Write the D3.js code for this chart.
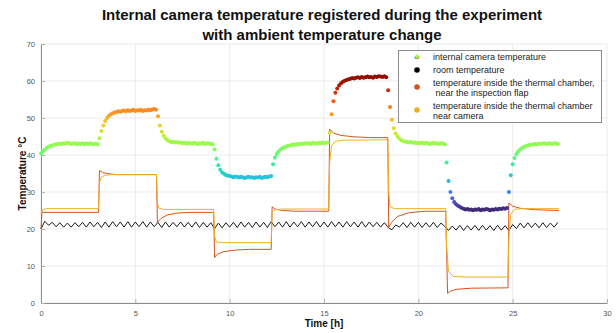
<!DOCTYPE html>
<html>
<head>
<meta charset="utf-8">
<script src="https://cdn.jsdelivr.net/npm/d3@7"></script>
<style>
  body { margin: 0; background: #fff; }
  text { font-family: "Liberation Sans", Arial, sans-serif; }
</style>
</head>
<body>
<script>
// internal camera temperature, one reading every 0.1 h
var cameraStep = 0.1;
var cameraTemp = [
  40.4, 41.0, 41.5, 41.9, 42.2, 42.5, 42.6, 42.8, 42.9, 43.0,
  43.1, 43.0, 43.2, 43.1, 43.3, 43.2, 43.0, 43.1, 43.2, 42.9,
  43.1, 43.0, 43.2, 42.9, 43.1, 43.0, 43.2, 43.0, 42.9, 43.1,
  42.9, 44.5, 46.5, 48.0, 49.2, 50.0, 50.6, 51.0, 51.3, 51.5,
  51.6, 51.8, 51.7, 51.9, 52.0, 51.8, 52.1, 51.9, 52.0, 52.2,
  51.9, 52.1, 52.0, 52.2, 51.9, 52.1, 52.0, 52.2, 52.1, 52.3,
  52.4, 52.2, 50.5, 48.0, 46.3, 45.2, 44.5, 44.0, 43.7, 43.5,
  43.6, 43.4, 43.5, 43.3, 43.4, 43.2, 43.3, 43.1, 43.3, 43.2,
  43.1, 43.3, 43.2, 43.0, 43.2, 43.1, 43.3, 43.0, 43.2, 43.1,
  43.0, 42.9, 41.5, 39.0, 37.2, 36.0, 35.3, 34.9, 34.6, 34.4,
  34.3, 34.2, 34.0, 34.2, 34.1, 33.9, 34.1, 34.0, 33.8, 34.0,
  34.1, 33.9, 34.0, 33.8, 34.0, 33.9, 34.1, 33.8, 34.0, 34.1,
  34.0, 34.2, 34.3, 37.5, 39.3, 40.3, 41.0, 41.5, 41.9, 42.1,
  42.3, 42.5, 42.6, 42.7, 42.9, 42.8, 43.0, 42.9, 43.1, 43.0,
  43.2, 43.1, 43.2, 43.0, 43.3, 43.2, 43.1, 43.3, 43.2, 43.4,
  43.2, 43.3, 43.4, 46.0, 51.0, 54.5, 56.8, 58.0, 58.8, 59.4,
  59.8, 60.1, 60.3, 60.5, 60.6, 60.8, 60.7, 60.9, 61.0, 60.8,
  61.1, 60.9, 61.0, 61.2, 61.0, 61.1, 60.9, 61.2, 61.1, 61.3,
  61.2, 61.1, 61.3, 61.0, 57.5, 53.0, 49.5, 47.2, 45.8, 45.0,
  44.4, 44.0, 43.8, 43.6, 43.5, 43.4, 43.5, 43.3, 43.4, 43.2,
  43.3, 43.2, 43.4, 43.1, 43.3, 43.2, 43.0, 43.2, 43.3, 43.1,
  43.2, 43.0, 43.2, 43.1, 42.9, 38.0, 33.0, 30.0, 28.3, 27.3,
  26.7, 26.3, 26.0, 25.7, 25.5, 25.3, 25.4, 25.2, 25.3, 25.1,
  25.3, 25.2, 25.4, 25.1, 25.3, 25.2, 25.4, 25.3, 25.1, 25.3,
  25.2, 25.4, 25.3, 25.5, 25.4, 25.6, 25.5, 25.7, 30.0, 34.5,
  37.5, 39.2, 40.3, 41.0, 41.5, 41.9, 42.2, 42.4, 42.6, 42.7,
  42.8, 42.9, 43.0, 42.9, 43.1, 43.0, 43.2, 43.1, 43.0, 43.2,
  43.1, 43.0, 43.2, 43.1, 43.0
];

// room temperature, one reading every 0.2 h
var roomStep = 0.2;
var roomTemp = [
  20.0, 22.1, 21.0, 21.8, 20.6, 21.7, 20.5, 21.6, 20.5, 21.7,
  20.6, 21.8, 20.5, 21.9, 20.6, 21.8, 20.4, 21.9, 20.5, 22.0,
  20.6, 21.9, 20.5, 22.0, 20.5, 21.9, 20.6, 22.0, 20.5, 21.9,
  20.6, 21.8, 20.4, 21.9, 20.5, 21.8, 20.6, 21.9, 20.5, 21.8,
  20.5, 21.9, 20.4, 21.8, 20.5, 21.7, 20.1, 21.6, 20.3, 21.7,
  20.5, 21.8, 20.4, 21.9, 20.5, 21.8, 20.4, 21.9, 20.5, 21.8,
  20.4, 22.0, 20.6, 21.9, 20.5, 22.0, 20.5, 21.9, 20.6, 22.0,
  20.5, 21.9, 20.6, 22.0, 20.5, 21.9, 20.5, 22.0, 20.6, 21.9,
  20.5, 22.0, 20.6, 21.9, 20.5, 22.0, 20.5, 21.9, 20.6, 21.8,
  20.5, 21.7, 20.4, 19.8, 21.1, 20.5, 21.7, 20.4, 21.8, 20.5,
  21.8, 20.4, 21.7, 20.5, 21.8, 20.4, 21.6, 20.7, 19.6, 20.8,
  19.7, 21.0, 19.6, 20.9, 19.7, 21.0, 19.6, 21.0, 19.7, 20.9,
  19.6, 21.0, 19.7, 20.9, 19.6, 21.2, 20.1, 21.6, 20.3, 21.7,
  20.4, 21.6, 20.3, 21.7, 20.4, 21.6, 20.5, 21.8
];

// thermal chamber, near the inspection flap: [hour, °C]
var flapTemp = [
  [0, 20.0], [0.05, 24.5], [3.05, 24.5], [3.1, 35.8], [3.3, 35.2], [3.6, 34.9],
  [4.0, 34.7], [6.12, 34.7], [6.17, 21.8], [6.35, 22.8], [6.7, 23.8], [7.2, 24.3],
  [8.0, 24.5], [9.15, 24.5], [9.2, 12.3], [9.35, 13.2], [9.7, 13.9], [10.3, 14.3],
  [11.0, 14.5], [12.2, 14.5], [12.25, 26.0], [12.4, 25.4], [12.8, 25.0], [13.5, 24.8],
  [15.25, 24.8], [15.3, 47.0], [15.5, 45.9], [15.9, 45.3], [16.6, 44.9], [17.5, 44.7],
  [18.38, 44.7], [18.43, 20.5], [18.58, 21.8], [18.9, 23.4], [19.5, 24.4], [20.3, 24.8],
  [21.45, 24.8], [21.55, 2.6], [21.7, 3.2], [22.0, 3.7], [22.8, 4.0], [24.75, 4.1],
  [24.8, 27.0], [25.0, 26.2], [25.4, 25.6], [26.2, 25.2], [27.45, 25.0]
];

// thermal chamber, near the camera: [hour, °C]
var nearCamTemp = [
  [0, 24.0], [0.1, 25.3], [0.3, 25.5], [3.05, 25.5], [3.1, 32.5], [3.2, 34.0],
  [3.4, 34.5], [3.7, 34.7], [6.12, 34.7], [6.17, 27.0], [6.25, 25.6], [6.5, 25.3],
  [9.15, 25.3], [9.2, 18.0], [9.3, 16.5], [9.6, 16.3], [12.2, 16.3], [12.25, 24.5],
  [12.4, 25.2], [12.8, 25.4], [15.25, 25.4], [15.3, 38.0], [15.4, 42.5], [15.6, 43.7],
  [16.0, 44.0], [18.38, 44.1], [18.43, 30.0], [18.5, 26.0], [18.75, 25.5], [21.45, 25.5],
  [21.5, 15.0], [21.6, 8.5], [21.85, 7.2], [22.5, 7.0], [24.75, 7.0], [24.8, 18.0],
  [24.9, 24.0], [25.1, 25.3], [25.5, 25.5], [27.45, 25.5]
];

var titleLines = ["Internal camera temperature registered during the experiment",
                  "with ambient temperature change"];
var legendLabels = [
  ["internal camera temperature"],
  ["room temperature"],
  ["temperature inside the thermal chamber,", " near the inspection flap"],
  ["temperature inside the thermal chamber", "near camera"]
];
var xTicks = [0, 5, 10, 15, 20, 25, 30];
var yTicks = [0, 10, 20, 30, 40, 50, 60, 70];

var W = 616, H = 333;
var m = { left: 41, right: 9, top: 44, bottom: 30 };

var svg = d3.select("body").append("svg").attr("width", W).attr("height", H);

var x = d3.scaleLinear().domain([0, 30]).range([m.left, W - m.right]);
var y = d3.scaleLinear().domain([0, 70]).range([H - m.bottom, m.top]);
var color = d3.scaleSequential(d3.interpolateTurbo).domain([24, 62]);

// grid
svg.append("g").selectAll("line").data(xTicks).enter().append("line")
  .attr("x1", d => x(d)).attr("x2", d => x(d))
  .attr("y1", y(0)).attr("y2", y(70))
  .attr("stroke", "#ebebeb").attr("stroke-width", 1);
svg.append("g").selectAll("line").data(yTicks).enter().append("line")
  .attr("x1", x(0)).attr("x2", x(30))
  .attr("y1", d => y(d)).attr("y2", d => y(d))
  .attr("stroke", "#ebebeb").attr("stroke-width", 1);

// axes
var xAxis = svg.append("g").attr("transform", "translate(0," + y(0) + ")")
  .call(d3.axisBottom(x).tickValues(xTicks).tickSizeInner(-4).tickSizeOuter(0).tickPadding(8));
var yAxis = svg.append("g").attr("transform", "translate(" + x(0) + ",0)")
  .call(d3.axisLeft(y).tickValues(yTicks).tickSizeInner(-4).tickSizeOuter(0).tickPadding(6));
[xAxis, yAxis].forEach(function (g) {
  g.select(".domain").attr("stroke", "#8c8c8c");
  g.selectAll(".tick line").attr("stroke", "#b0b0b0");
  g.selectAll(".tick text").attr("fill", "#555")
    .style("font-family", "'Liberation Sans', Arial, sans-serif").style("font-size", "7.5px");
});

// room temperature
var line = d3.line().x(d => x(d[0])).y(d => y(d[1]));
var roomPts = roomTemp.map((v, i) => [i * roomStep, v]);
svg.append("path").attr("d", line(roomPts))
  .attr("fill", "none").attr("stroke", "#1a1a1a").attr("stroke-width", 1);

// chamber temperatures
svg.append("path").attr("d", line(flapTemp))
  .attr("fill", "none").attr("stroke", "#d95319").attr("stroke-width", 1);
svg.append("path").attr("d", line(nearCamTemp))
  .attr("fill", "none").attr("stroke", "#edb120").attr("stroke-width", 1);

// camera temperature as coloured dots
svg.append("g").selectAll("circle").data(cameraTemp).enter().append("circle")
  .attr("cx", (d, i) => x(i * cameraStep))
  .attr("cy", d => y(d))
  .attr("r", 2)
  .attr("fill", d => color(d));

// title
svg.append("g").selectAll("text").data(titleLines).enter().append("text")
  .attr("x", 322).attr("y", (d, i) => 20 + i * 19.5)
  .attr("text-anchor", "middle")
  .style("font-size", "15px").style("font-weight", "bold").attr("fill", "#111")
  .text(d => d);

// axis labels
svg.append("text").attr("x", x(15)).attr("y", 327)
  .attr("text-anchor", "middle").style("font-size", "10px").style("font-weight", "bold")
  .attr("fill", "#111").text("Time [h]");
svg.append("text").attr("transform", "translate(26," + y(35) + ") rotate(-90)")
  .attr("text-anchor", "middle").style("font-size", "10px").style("font-weight", "bold")
  .attr("fill", "#111").text("Temperature °C");

// legend
var lg = svg.append("g");
lg.append("rect").attr("x", 398.5).attr("y", 50.5).attr("width", 203).attr("height", 72)
  .attr("fill", "#fff").attr("stroke", "#8c8c8c").attr("stroke-width", 1);
var markerY = [57, 70, 87, 110];
var textY = [[60], [73], [86, 96], [108.5, 119]];
var markerCol = [null, "#000", "#d95319", "#edb120"];
legendLabels.forEach(function (lines, i) {
  if (i === 0) {
    // multicoloured dot for the colour-mapped series
    [[-0.8, 0.5, color(34)], [0.8, 0.5, color(52)], [0, -0.6, color(43)]].forEach(function (c) {
      lg.append("circle").attr("cx", 417 + c[0]).attr("cy", markerY[i] + c[1]).attr("r", 1.8).attr("fill", c[2]);
    });
  } else {
    lg.append("circle").attr("cx", 417).attr("cy", markerY[i]).attr("r", 2.8).attr("fill", markerCol[i]);
  }
  lines.forEach(function (t, j) {
    lg.append("text").attr("x", 433).attr("y", textY[i][j])
      .style("font-size", "9px").attr("fill", "#222").attr("xml:space", "preserve").text(t);
  });
});
</script>
</body>
</html>
